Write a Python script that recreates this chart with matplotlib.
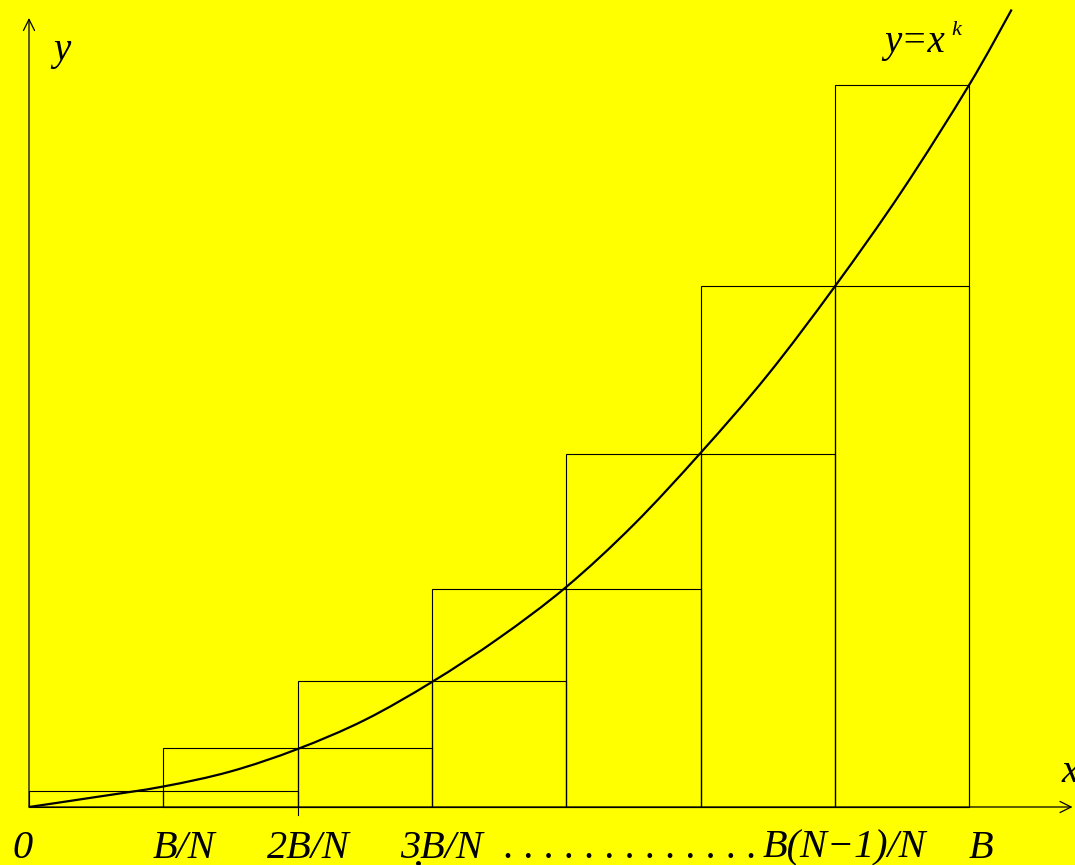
# Upper and lower step sums under y = x^k on [0, B], split into N strips.

import matplotlib
matplotlib.use("Agg")
import matplotlib.pyplot as plt
from matplotlib.path import Path
from matplotlib.patches import PathPatch

# strip edges, in units of B/N
strip_left = [0, 1, 2, 3, 4, 5, 6]
# value of the curve at the right edge of each strip (upper-sum heights)
strip_height = [16, 59, 126, 218, 353, 521, 722]

# points along the curve y = x^k
curve_x = [0, 0.5, 1, 1.5, 2, 2.5, 3, 3.5, 4, 4.5, 5, 5.5, 6, 6.5, 7, 7.317]
curve_y = [0, 10, 20.5, 35.5, 58, 87, 125, 169, 220, 282, 354, 432, 520.5, 616, 722, 797.5]

# x-axis labels and where they sit
tick_labels = ["0", "B/N", "2B/N", "3B/N", "B(N\u22121)/N", "B"]
tick_label_x = [-0.05, 1.15, 2.08, 3.07, 6.07, 7.09]

BG = "#ffff00"
FONT = dict(family="Liberation Serif", style="italic", color="black")


def smooth_path(xs, ys):
    """Cubic Bezier path through the points (Catmull-Rom tangents)."""
    pts = list(zip(xs, ys))
    verts = [pts[0]]
    codes = [Path.MOVETO]
    for i in range(len(pts) - 1):
        p0 = pts[max(i - 1, 0)]
        p1 = pts[i]
        p2 = pts[i + 1]
        p3 = pts[min(i + 2, len(pts) - 1)]
        c1 = (p1[0] + (p2[0] - p0[0]) / 6, p1[1] + (p2[1] - p0[1]) / 6)
        c2 = (p2[0] - (p3[0] - p1[0]) / 6, p2[1] - (p3[1] - p1[1]) / 6)
        verts += [c1, c2, p2]
        codes += [Path.CURVE4] * 3
    return Path(verts, codes)


fig = plt.figure(figsize=(10.75, 8.65), dpi=100, facecolor=BG)
ax = fig.add_axes([0, 0, 1, 1])
ax.set_facecolor(BG)
ax.set_xlim(-29 / 134.3, (1075 - 29) / 134.3)
ax.set_ylim(-58, 807)
ax.axis("off")

# upper rectangles: height taken at the right end of each strip
ax.bar(strip_left, strip_height, width=1, align="edge",
       fill=False, edgecolor="black", linewidth=0.8)
# lower rectangles: height taken at the left end (first one is flat)
ax.bar(strip_left[1:], strip_height[:-1], width=1, align="edge",
       fill=False, edgecolor="black", linewidth=0.8)

# the curve itself
ax.add_patch(PathPatch(smooth_path(curve_x, curve_y), fill=False,
                       edgecolor="black", linewidth=1.6, zorder=3))

# coordinate axes with open arrowheads
arrow = dict(arrowstyle="->", lw=0.9, color="black",
             shrinkA=0, shrinkB=0, mutation_scale=20)
ax.annotate("", xy=(7.77, 0), xytext=(0, 0), arrowprops=arrow)
ax.annotate("", xy=(0, 789), xytext=(0, 0), arrowprops=arrow)

# small tick under 2B/N
ax.plot([2, 2], [0, -8], color="black", linewidth=0.8)

# axis names and curve label
ax.text(0.18, 747, "y", fontsize=28, ha="left", va="baseline", **FONT)
ax.text(7.69, 25, "x", fontsize=28, ha="left", va="baseline", **FONT)
ax.text(6.37, 755, "y=x", fontsize=28, ha="left", va="baseline", **FONT)
ax.text(6.87, 772, "k", fontsize=16, ha="left", va="baseline", **FONT)

# labels along the x axis
for lx, lab in zip(tick_label_x, tick_labels):
    ax.text(lx, -50.7, lab, fontsize=29, ha="center", va="baseline", **FONT)
ax.text(3.54, -50.7, ". " * 12 + ".", fontsize=29, ha="left",
        va="baseline", **FONT)
ax.plot([2.895], [-56], marker="o", markersize=2.5, color="black")

fig.savefig("out.png", dpi=100, facecolor=BG)
